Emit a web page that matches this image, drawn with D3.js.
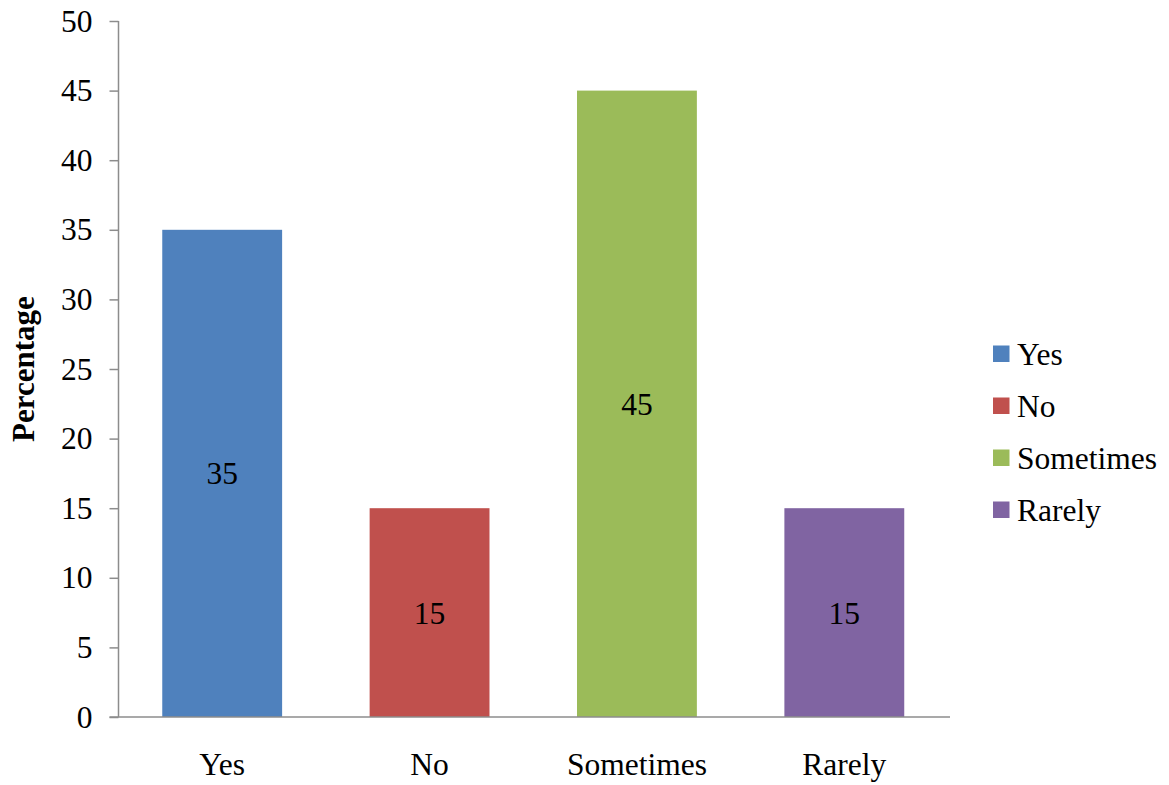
<!DOCTYPE html>
<html>
<head>
<meta charset="utf-8">
<script src="https://cdn.jsdelivr.net/npm/d3@7"></script>
<style>
html,body{margin:0;padding:0;background:#fff;}
svg{display:block;font-family:"Liberation Serif","Times New Roman",serif;}
</style>
</head>
<body>
<svg id="chart" width="1169" height="785"></svg>
<script>
const categories = ["Yes", "No", "Sometimes", "Rarely"];
const values = [35, 15, 45, 15];
const colors = ["#4F81BD", "#C0504D", "#9BBB59", "#8064A2"];
const yTicks = [0, 5, 10, 15, 20, 25, 30, 35, 40, 45, 50];
const yLabel = "Percentage";

(function () {
const svg = d3.select("#chart");
const mLeft = 118.5, mRight = 948, mTop = 21, mBottom = 717;
const fs = 31.5;

const x = d3.scaleBand().domain(categories).range([mLeft, mRight])
  .paddingInner(0.422).paddingOuter(0.211);
const y = d3.scaleLinear().domain([0, 50]).range([mBottom, mTop]);

// bars
svg.append("g").selectAll("rect").data(values).join("rect")
  .attr("x", (d, i) => x(categories[i]))
  .attr("y", d => y(d))
  .attr("width", x.bandwidth())
  .attr("height", d => y(0) - y(d))
  .attr("fill", (d, i) => colors[i]);

// value labels
svg.append("g").selectAll("text").data(values).join("text")
  .attr("x", (d, i) => x(categories[i]) + x.bandwidth() / 2)
  .attr("y", d => (y(d) + y(0)) / 2)
  .attr("dy", "0.35em")
  .attr("text-anchor", "middle")
  .attr("font-size", fs)
  .attr("fill", "#000")
  .text(d => d);

// y axis
const yAxis = d3.axisLeft(y).tickValues(yTicks).tickSize(9).tickPadding(17);
const gy = svg.append("g").attr("transform", `translate(${mLeft},0)`).call(yAxis);
gy.select(".domain").attr("stroke", "#8c8c8c").attr("stroke-width", 1.5).attr("d", `M0,${mTop}V${mBottom}`);
gy.selectAll(".tick line").attr("stroke", "#8c8c8c").attr("stroke-width", 1.5);
gy.selectAll(".tick text").attr("font-size", fs).attr("font-family", "Liberation Serif").attr("fill", "#000");

// x axis
const xAxis = d3.axisBottom(x).tickSize(0).tickPadding(36);
const gx = svg.append("g").attr("transform", `translate(0,${mBottom})`).call(xAxis);
gx.select(".domain").attr("stroke", "#8c8c8c").attr("stroke-width", 1.5).attr("d", `M${mLeft - 9},0H${mRight + 2}`);
gx.selectAll(".tick text").attr("font-size", fs).attr("font-family", "Liberation Serif").attr("fill", "#000");

// y label
svg.append("text")
  .attr("transform", `translate(34,${(mTop + mBottom) / 2}) rotate(-90)`)
  .attr("text-anchor", "middle")
  .attr("font-size", 31)
  .attr("font-weight", "bold")
  .text(yLabel);

// legend
const lg = svg.append("g");
categories.forEach((c, i) => {
  const cy = 354 + i * 52;
  lg.append("rect").attr("x", 993).attr("y", cy - 8.5).attr("width", 16.5).attr("height", 16.5).attr("fill", colors[i]);
  lg.append("text").attr("x", 1017).attr("y", cy).attr("dy", "0.35em")
    .attr("font-size", fs).text(c);
});
})();
</script>
</body>
</html>
